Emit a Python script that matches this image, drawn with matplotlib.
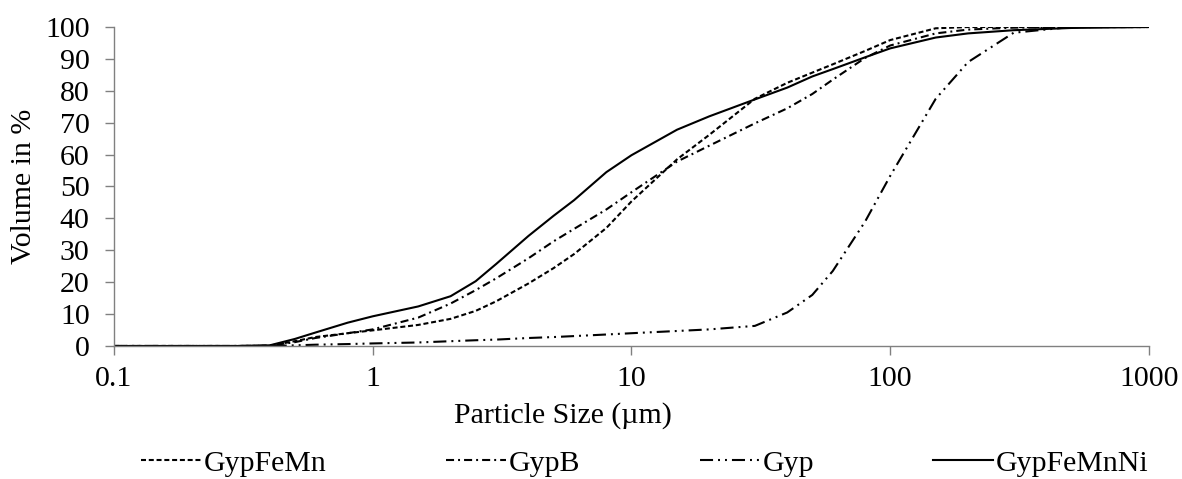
import numpy as np
import matplotlib.pyplot as plt
from matplotlib.ticker import FixedLocator, NullLocator

plt.rcParams['font.family'] = ['Liberation Serif', 'DejaVu Serif']
plt.rcParams['lines.scale_dashes'] = False

# particle size (µm) where the curves were read
size = [0.1, 0.2, 0.3, 0.4, 0.5, 0.6, 0.8, 1, 1.5, 2, 2.5, 3, 4, 5, 6, 8, 10,
        15, 20, 30, 40, 50, 60, 80, 100, 150, 200, 300, 500, 1000]

gyp_fe_mn = [0, 0, 0, 0.1, 1.5, 2.8, 4.0, 4.9, 6.6, 8.5, 11.0, 14.0, 19.6, 24.4, 28.8, 37.0, 45.3,
             58.5, 66.2, 77.5, 82.5, 85.7, 88.3, 92.5, 95.9, 99.6, 100, 100, 100, 100]
gyp_b = [0, 0, 0, 0.1, 1.2, 2.5, 4.0, 5.2, 8.9, 13.3, 17.5, 21.2, 27.5, 32.8, 36.7, 42.8, 48.2,
         57.8, 62.8, 69.8, 74.5, 79.0, 83.5, 90.3, 94.2, 98.0, 99.2, 99.8, 100, 100]
gyp = [0, 0, 0, 0, 0.2, 0.4, 0.6, 0.8, 1.1, 1.5, 1.8, 2.0, 2.5, 2.8, 3.1, 3.6, 4.0,
       4.7, 5.2, 6.3, 10.5, 16.0, 23.5, 39.0, 53.3, 77.5, 89.0, 98.2, 100, 100]
gyp_fe_mn_ni = [0, 0, 0, 0.2, 2.2, 4.2, 7.3, 9.3, 12.4, 15.6, 20.3, 25.7, 34.5, 40.8, 45.7, 54.5, 59.8,
                67.8, 72.0, 77.3, 81.0, 84.5, 86.8, 90.5, 93.3, 96.7, 98.0, 99.0, 99.7, 100]

series = [
    ('GypFeMn', gyp_fe_mn, (0, (3.6, 2.0))),
    ('GypB', gyp_b, (0, (5.8, 2.9, 1.4, 2.9))),
    ('Gyp', gyp, (0, (9.4, 3.6, 1.4, 3.6, 1.4, 3.6))),
    ('GypFeMnNi', gyp_fe_mn_ni, '-'),
]

fig = plt.figure(figsize=(11.82, 4.79), dpi=100)
ax = fig.add_axes([0.0964, 0.2777, 0.8756, 0.6659])

for name, vals, ls in series:
    ax.plot(size, vals, color='black', lw=1.5, linestyle=ls, label=name)

ax.set_xscale('log')
ax.set_xlim(0.1, 1000)
ax.set_ylim(0, 100)
ax.xaxis.set_major_locator(FixedLocator([0.1, 1, 10, 100, 1000]))
ax.xaxis.set_minor_locator(NullLocator())
ax.set_xticklabels(['0.1', '1', '10', '100', '1000'])
ax.set_yticks(np.arange(0, 101, 10))

for side in ['top', 'right']:
    ax.spines[side].set_visible(False)
for side in ['left', 'bottom']:
    ax.spines[side].set_color('#808080')
    ax.spines[side].set_linewidth(1.0)

fs = 21.5
ax.tick_params(direction='out', length=6.5, width=1, color='#808080', labelsize=fs)
ax.tick_params(axis='y', pad=11)
ax.tick_params(axis='x', pad=8)
ax.set_xlabel('Particle Size (µm)', fontsize=fs, labelpad=0)
ax.xaxis.set_label_coords(0.434, -0.175)
ax.set_ylabel('Volume in %', fontsize=fs)
ax.yaxis.set_label_coords(-0.074, 0.5)

ax.legend(loc='upper center', bbox_to_anchor=(0.513, -0.325), ncol=4, frameon=False,
          fontsize=fs, handlelength=2.0, handletextpad=0.1, columnspacing=4.0,
          borderaxespad=0, borderpad=0)

fig.savefig('out.png', dpi=100)
